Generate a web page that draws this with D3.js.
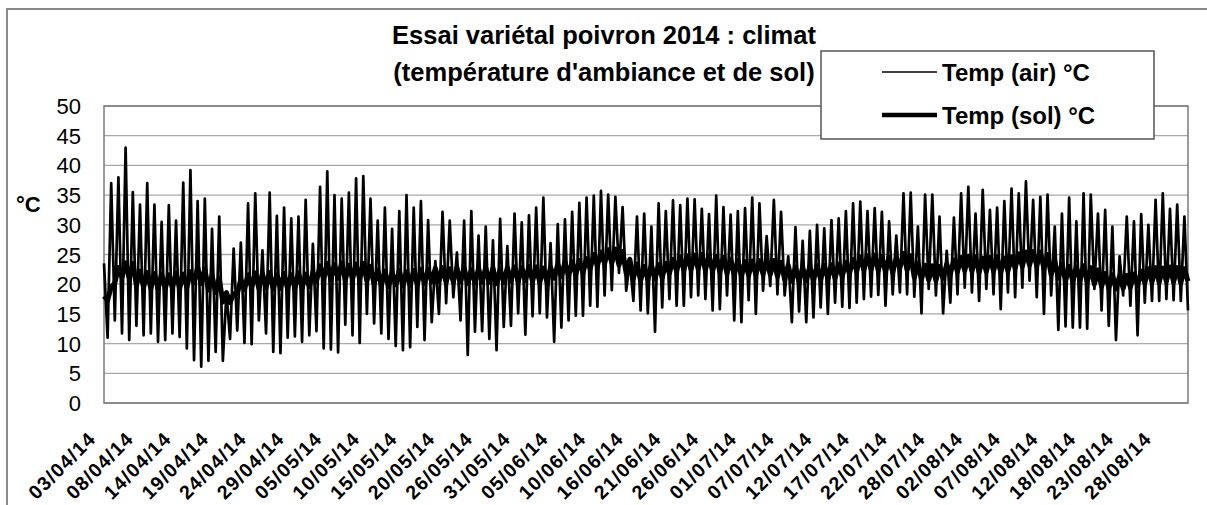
<!DOCTYPE html>
<html><head><meta charset="utf-8">
<script src="https://cdn.jsdelivr.net/npm/d3@7"></script>
<style>body{margin:0;background:#fff}svg{display:block}text{font-family:"Liberation Sans",Arial,sans-serif;fill:#000}</style>
</head><body><svg id="c" width="1207" height="505"></svg>
<script>
const titleLines = ["Essai variétal poivron 2014 : climat", "(température d'ambiance et de sol)"];
const seriesNames = ["Temp (air) °C", "Temp (sol) °C"];
const yAxisTitle = "°C";
const yTicks = [0, 5, 10, 15, 20, 25, 30, 35, 40, 45, 50];
const dateLabels = ["03/04/14","08/04/14","14/04/14","19/04/14","24/04/14","29/04/14","05/05/14","10/05/14","15/05/14","20/05/14","26/05/14","31/05/14","05/06/14","10/06/14","16/06/14","21/06/14","26/06/14","01/07/14","07/07/14","12/07/14","17/07/14","22/07/14","28/07/14","02/08/14","07/08/14","12/08/14","18/08/14","23/08/14","28/08/14"];

// Air temperature: first reading, then daily (min, max), last reading
const airFirst = 23.5, airLast = 15.6;
const airMin = [
 11,13.9,11.7,10.6,13,11.4,11.7,10.3,10.6,11.7,11.1,9.2,7.2,6.1,7.1,8.6,7.1,10.8,12.2,10.1,9.9,13.9,11.7,8.6,8.4,
 11,11.2,10.3,11.4,12.1,9.2,9,8.5,13.2,11.4,10.1,15,13.4,11.7,10.8,9.6,8.9,9.4,12.8,10.6,13.6,15,16.8,17.8,13.9,8.1,12,
 12.1,10.8,8.9,12.8,13,15.1,11.5,14.6,15.1,14.4,10.3,12.7,13.9,14.7,14.7,16.4,16.2,18.1,19,21.9,18.9,17.2,15.6,15.1,
 12,16.1,17.5,16.4,16.4,17.8,18.1,17.5,15.6,15.8,18.1,13.9,13.6,17.3,15,18.9,19.7,18.3,18.1,13.6,15.4,13.6,14.4,16.1,15,
 16.9,16.2,16,16.9,17.5,17.9,18.2,16.4,18.3,18.6,18.3,17.9,15.1,19.2,18.1,15.1,16.9,18.3,19.4,18.6,17.2,19.2,18.3,15.8,
 18.6,17.8,19.4,20.6,17.8,15,18.1,12.3,12.9,12.7,12.7,12.5,19.2,15.6,13,10.6,18.1,16.4,11.4,16.9,17.2,17.2,17.5,17.3,17.2
];
const airMax = [
 37,38,43,35.5,33.4,37,33.4,30.5,33.3,30.7,37.1,39.2,34,34.4,29.3,31.4,18.5,26,27,33.6,35.3,25.7,35.4,31.5,32.9,
 31.1,31.4,34.2,26.8,36.4,39,35,34.4,35.4,37.8,38.2,34.4,30.7,32.9,29.3,32.3,35,32.9,34,30.8,23.9,32.2,30.7,25.3,30.7,32.3,28.2,
 29.7,27.4,31,26.4,31.9,30.4,31.6,32.9,34.6,26.9,30.1,30.9,32.2,33.7,34.6,34.9,35.7,35.1,34.7,33,23.9,31.4,31.9,29.7,
 33.6,32.3,34.1,33.3,34.4,34.3,32.7,31.8,34.9,33,31.7,32.3,32.8,34.6,33.6,28.1,34.2,32.2,24.7,29.6,27.3,29,30,29.4,30.8,
 31.1,32.3,33.6,33.9,32.3,32.8,32.2,30.6,28.2,35.3,35.4,29.7,35.1,35.1,31.4,25.6,31.2,35.3,36.4,31.9,35.9,32.5,32.9,34,
 36.1,35.3,37.3,34.2,34.7,35.1,29.7,31.9,34.6,30.6,35.3,35.1,31.9,32.5,29.7,24.7,31.4,30.6,31.8,30,34.2,35.3,32.7,33.4,31.4
];

// Soil temperature: first reading, then daily (low, high), last reading
const soilFirst = 18.0, soilLast = 20.5;
const soilLow = [
 17.3,20.2,21.2,21,19.8,19.5,19.3,19.2,19.2,19.4,19.3,19.5,20.2,20.1,19,18.6,17,16.9,18.4,19.1,19.4,19.3,19.4,19.2,19.3,
 19.2,19.4,19.3,19.6,20.5,20.9,20.8,21,20.7,20.9,20.9,20.6,20,19.8,19.6,19.9,19.7,19.8,20,20.1,20.4,20.5,20.3,20.4,20.4,
 20.1,20.2,20.4,20.3,20.1,20.3,20.5,20.4,20.6,20.5,20.3,20.4,21,21.3,21.4,21.6,21.9,22.6,23.1,23.5,23.6,23.2,21.8,21,20.6,
 20.8,20.9,21.1,21.8,22.2,22.4,22.5,22.6,22.4,22.3,22.1,21.8,21.6,21.4,21.5,21.6,21.7,21.6,21.3,20.8,20.5,20.4,20.6,20.7,20.8,
 20.9,21,21.3,21.8,22.2,22.4,22.5,22.3,22.1,22,22.8,22.4,21.1,20.8,20.7,20.6,21,21.7,22.1,22.3,22.2,22,22.1,22.2,22,
 22.2,22.7,23,23.2,23.1,22.6,21.6,21,20.6,20.5,20.7,20.4,20,19.6,19.4,19.2,19.3,19.5,19.8,20.2,20.4,20.3,20.5,20.4,20.2
];
const soilHigh = [
 19.5,22.8,23.6,23.5,22.2,22,21.8,21.7,21.6,21.9,21.7,22.1,22.9,22.6,21.5,21,18.6,18.4,20.8,21.6,21.9,21.8,22,21.6,21.8,
 21.6,21.9,21.7,22,23.1,23.5,23.3,23.6,23.2,23.4,23.5,23,22.4,22.2,22,22.3,22.1,22.3,22.5,22.5,22.7,22.8,22.6,22.8,22.7,
 22.5,22.6,22.8,22.7,22.5,22.8,22.9,22.8,23,22.9,22.7,22.8,23.4,23.7,23.8,24,24.3,25,25.4,25.8,25.9,25.5,24.2,23.4,23,
 23.2,23.3,23.5,24.2,24.6,24.8,24.9,25,24.8,24.7,24.5,24.2,24,23.8,23.9,24,24.1,24,23.7,23.2,22.9,22.8,23,23.1,23.2,
 23.3,23.4,23.7,24.2,24.6,24.8,24.9,24.7,24.5,24.4,25.2,24.8,23.5,23.2,23.1,23,23.4,24.1,24.5,24.7,24.6,24.4,24.5,24.6,24.4,
 24.6,25.1,25.4,25.5,25.4,25,24,23.4,23,22.9,23.1,22.8,22.4,21.8,21.6,21.4,21.5,21.7,22.2,22.6,22.8,22.7,22.9,22.8,22.6
];

const labelEvery = 10.47; // readings between date labels

const air = [airFirst];
airMin.forEach((v, i) => { air.push(v, airMax[i]); });
air.push(airLast);
const soil = [soilFirst];
soilLow.forEach((v, i) => { soil.push(v, soilHigh[i]); });
soil.push(soilLast);

const svg = d3.select("#c");
const P = {l: 104, t: 106, r: 1188, b: 403};
const x = d3.scaleLinear().domain([0, air.length - 1]).range([P.l, P.r]);
const y = d3.scaleLinear().domain([0, 50]).range([P.b, P.t]);

// outer chart frame
svg.append("rect").attr("x", 7).attr("y", 9).attr("width", 1400).attr("height", 700)
  .attr("fill", "#fff").attr("stroke", "#8a8a8a").attr("stroke-width", 2);

// gridlines
svg.append("g").selectAll("line").data(yTicks).join("line")
  .attr("x1", P.l).attr("x2", P.r).attr("y1", d => y(d)).attr("y2", d => y(d))
  .attr("stroke", "#a8a8a8").attr("stroke-width", 1.3);

// plot border
svg.append("rect").attr("x", P.l).attr("y", P.t).attr("width", P.r - P.l).attr("height", P.b - P.t)
  .attr("fill", "none").attr("stroke", "#7a7a7a").attr("stroke-width", 1.5);

// y tick labels
svg.append("g").selectAll("text").data(yTicks).join("text")
  .attr("x", 81).attr("y", d => y(d) + 8).attr("text-anchor", "end")
  .attr("font-size", 22).text(d => d);

svg.append("text").attr("x", 16).attr("y", 212).attr("font-size", 22).attr("font-weight", "bold").text(yAxisTitle);

// x labels
svg.append("g").selectAll("text").data(dateLabels).join("text")
  .attr("transform", (d, i) => `translate(${x(i * labelEvery) - 7},440) rotate(-45)`)
  .attr("text-anchor", "end").attr("font-size", 19.5).attr("letter-spacing", 1.2)
  .attr("font-weight", "bold").text(d => d);

// lines
const line = d3.line().x((d, i) => x(i)).y(d => y(d));
svg.append("path").datum(soil).attr("d", line).attr("fill", "none")
  .attr("stroke", "#000").attr("stroke-width", 5).attr("stroke-linejoin", "round");
svg.append("path").datum(air).attr("d", line).attr("fill", "none")
  .attr("stroke", "#000").attr("stroke-width", 2.7).attr("stroke-linejoin", "round");

// title
svg.append("g").selectAll("text").data(titleLines).join("text")
  .attr("x", 604).attr("y", (d, i) => 44 + i * 37).attr("text-anchor", "middle")
  .attr("font-size", 25.5).attr("font-weight", "bold").text(d => d);

// legend
const lg = svg.append("g");
lg.append("rect").attr("x", 821).attr("y", 51).attr("width", 333).attr("height", 88)
  .attr("fill", "#fff").attr("stroke", "#555").attr("stroke-width", 1.5);
const lw = [1.5, 4.5];
seriesNames.forEach((s, i) => {
  const cy = 72 + i * 43;
  lg.append("line").attr("x1", 882).attr("x2", 937).attr("y1", cy).attr("y2", cy)
    .attr("stroke", "#000").attr("stroke-width", lw[i]);
  lg.append("text").attr("x", 942).attr("y", cy + 9).attr("font-size", 24).attr("font-weight", "bold").text(s);
});
</script></body></html>
